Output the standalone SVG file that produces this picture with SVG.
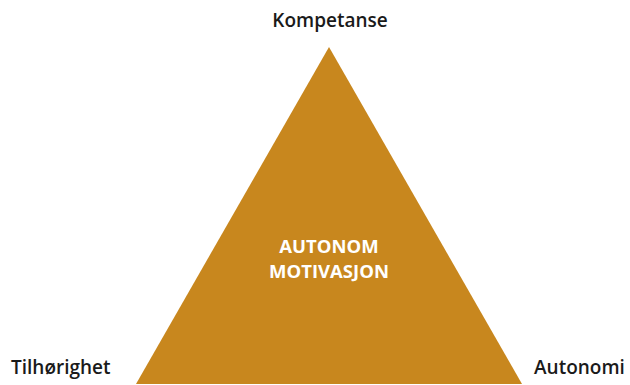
<svg xmlns="http://www.w3.org/2000/svg" width="630" height="385" viewBox="0 0 630 385">
<style>
.lbl{font-family:"Open Sans","Liberation Sans",sans-serif;font-weight:600;font-size:19px;fill:#1a1a1a}
.ctr{font-family:"Open Sans","Liberation Sans",sans-serif;font-weight:700;font-size:18.5px;fill:#ffffff;text-anchor:middle}
</style>
<rect width="630" height="385" fill="#ffffff"/>
<g id="triangle">
<polygon points="329,47 522,384 136,384" fill="#C8871E"/>
<text class="ctr" x="329" y="253">AUTONOM</text>
<text class="ctr" x="329" y="278">MOTIVASJON</text>
</g>
<g id="kompetanse"><text class="lbl" x="330" y="27" text-anchor="middle">Kompetanse</text></g>
<g id="tilhorighet"><text class="lbl" x="11" y="374">Tilhørighet</text></g>
<g id="autonomi"><text class="lbl" x="534" y="374">Autonomi</text></g>
</svg>
